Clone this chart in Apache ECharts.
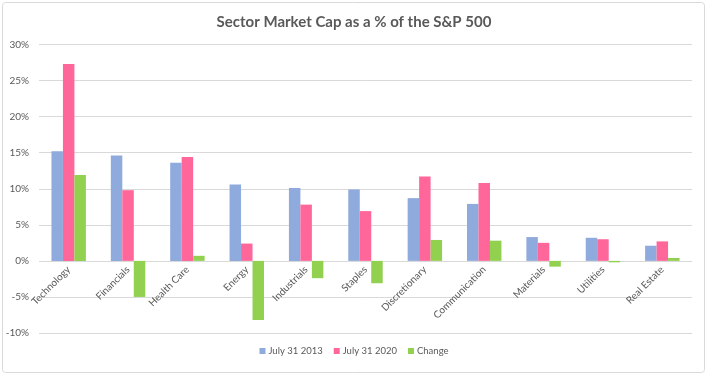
<!DOCTYPE html>
<html><head><meta charset="utf-8">
<script src="https://cdn.jsdelivr.net/npm/echarts@6/dist/echarts.min.js"></script>
<style>html,body{margin:0;padding:0;background:#fff}#c{width:708px;height:376px}</style>
</head><body><div id="c"></div>
<script>
const categories = ["Technology","Financials","Health Care","Energy","Industrials","Staples","Discretionary","Communication","Materials","Utilities","Real Estate"];
const july2013 = [15.2,14.6,13.6,10.6,10.1,9.9,8.7,7.9,3.3,3.2,2.1];
const july2020 = [27.3,9.8,14.4,2.4,7.8,6.9,11.7,10.8,2.5,3.0,2.7];
const change = [11.9,-5.0,0.7,-8.2,-2.4,-3.1,2.9,2.8,-0.8,-0.2,0.4];
const yTicks = {min:-10,max:30,interval:5};
const F = "Lato,'Liberation Sans',sans-serif";
const chart = echarts.init(document.getElementById('c'));
chart.setOption({
  animation:false,
  graphic:[{type:'rect',shape:{x:2.5,y:2.5,width:702,height:370,r:3},style:{fill:'none',stroke:'#d9d9d9',lineWidth:1}}],
  title:{text:'Sector Market Cap as a % of the S&P 500',left:'center',top:10,textStyle:{fontFamily:F,fontSize:15,fontWeight:'bold',color:'#595959'}},
  legend:{bottom:15,itemWidth:6,itemHeight:6,itemGap:11,icon:'rect',textStyle:{fontFamily:F,fontSize:9.5,color:'#595959',padding:[0,0,0,-2]}},
  grid:{left:39,right:16,top:44.5,bottom:43,containLabel:false,outerBoundsMode:'none'},
  xAxis:{type:'category',data:categories,axisTick:{show:false},position:'bottom',
    axisLine:{show:false,onZero:false},
    axisLabel:{rotate:45,fontFamily:F,fontSize:10,color:'#595959',margin:7,interval:0,overflow:'none',width:200}},
  yAxis:{type:'value',min:yTicks.min,max:yTicks.max,interval:yTicks.interval,
    axisLabel:{formatter:'{value}%',fontFamily:F,fontSize:10,color:'#595959',margin:10},
    splitLine:{lineStyle:{color:'#d9d9d9'}}},
  series:[
    {name:'July 31 2013',type:'bar',data:july2013,itemStyle:{color:'#8faadc'},barGap:'0%',barCategoryGap:'42%'},
    {name:'July 31 2020',type:'bar',data:july2020,itemStyle:{color:'#ff6699'}},
    {name:'Change',type:'bar',data:change,itemStyle:{color:'#92d050'}}
  ]
});
// place category labels on the zero line using the library's own value scale
const zeroY = chart.convertToPixel({yAxisIndex:0}, 0);
const minY = chart.convertToPixel({yAxisIndex:0}, yTicks.min);
chart.setOption({xAxis:{offset:-(minY-zeroY)}});
</script></body></html>
